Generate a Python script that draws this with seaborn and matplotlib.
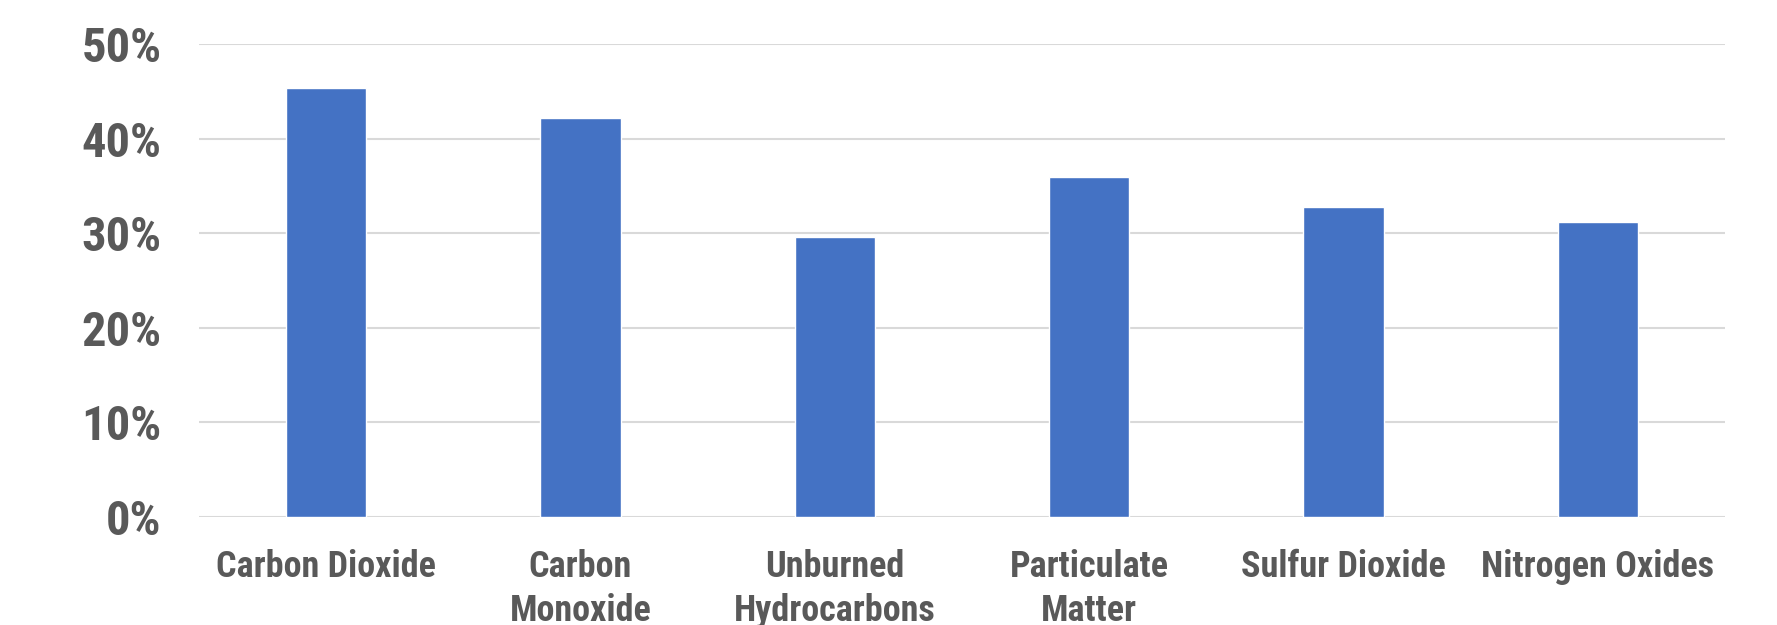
import matplotlib
matplotlib.use("Agg")
import matplotlib.pyplot as plt
from matplotlib import font_manager as fm
import seaborn as sns
import pandas as pd
from matplotlib.ticker import FuncFormatter

categories = ["Carbon Dioxide", "Carbon\nMonoxide", "Unburned\nHydrocarbons",
              "Particulate\nMatter", "Sulfur Dioxide", "Nitrogen Oxides"]
values = [45.3, 42.2, 29.6, 35.9, 32.8, 31.2]
yticks = [0, 10, 20, 30, 40, 50]

df = pd.DataFrame({"category": categories, "value": values})

sns.set_theme(style="white")

# choose a condensed family if one is installed
entries = fm.fontManager.ttflist
names = {e.name for e in entries}
family = None
stretch = "normal"
for cand in ["Liberation Sans Narrow", "Roboto Condensed", "Open Sans Condensed",
             "Noto Sans Condensed", "DejaVu Sans Condensed", "Arial Narrow"]:
    if cand in names:
        family = cand
        break
if family is None:
    for e in entries:
        if e.name in ("DejaVu Sans", "Noto Sans", "Open Sans", "Roboto") and \
                str(e.stretch) in ("condensed", "semi-condensed", "extra-condensed", "75", "87.5", "62.5"):
            family = e.name
            stretch = "condensed"
            break
condensed = family is not None
if family is None:
    family = "Roboto"
plt.rcParams['font.family'] = [family, 'DejaVu Sans']
plt.rcParams['font.stretch'] = stretch

fig = plt.figure(figsize=(17.77, 6.25), dpi=100)
ax = fig.add_axes([199/1777, 1 - 517/625, (1725-199)/1777, (517-44)/625])

sns.barplot(data=df, x="category", y="value", color="#4472C4", width=0.315,
            saturation=1, ax=ax, zorder=3)

ax.set_ylim(0, 50)
ax.set_yticks(yticks)
ax.yaxis.set_major_formatter(FuncFormatter(lambda v, p: f"{int(v)}%"))
ax.set_xlim(-0.5, len(categories) - 0.5)
ax.grid(axis="y", color="#D9D9D9", linewidth=1.5, zorder=0)
ax.set_axisbelow(True)
for s in ax.spines.values():
    s.set_visible(False)
ax.set_xlabel("")
ax.set_ylabel("")
ysize = 35 if condensed else 29
xsize = 26 if condensed else 19
ax.tick_params(axis="y", length=0, pad=27, labelsize=ysize, labelcolor="#595959")
ax.tick_params(axis="x", length=0, pad=23, labelsize=xsize, labelcolor="#595959")
for lab in ax.get_yticklabels():
    lab.set_fontweight("bold")
    lab.set_fontstretch(stretch)
for lab in ax.get_xticklabels():
    lab.set_fontweight("bold")
    lab.set_fontstretch(stretch)
    lab.set_linespacing(1.27)

fig.savefig("out.png", dpi=100, facecolor="white")
